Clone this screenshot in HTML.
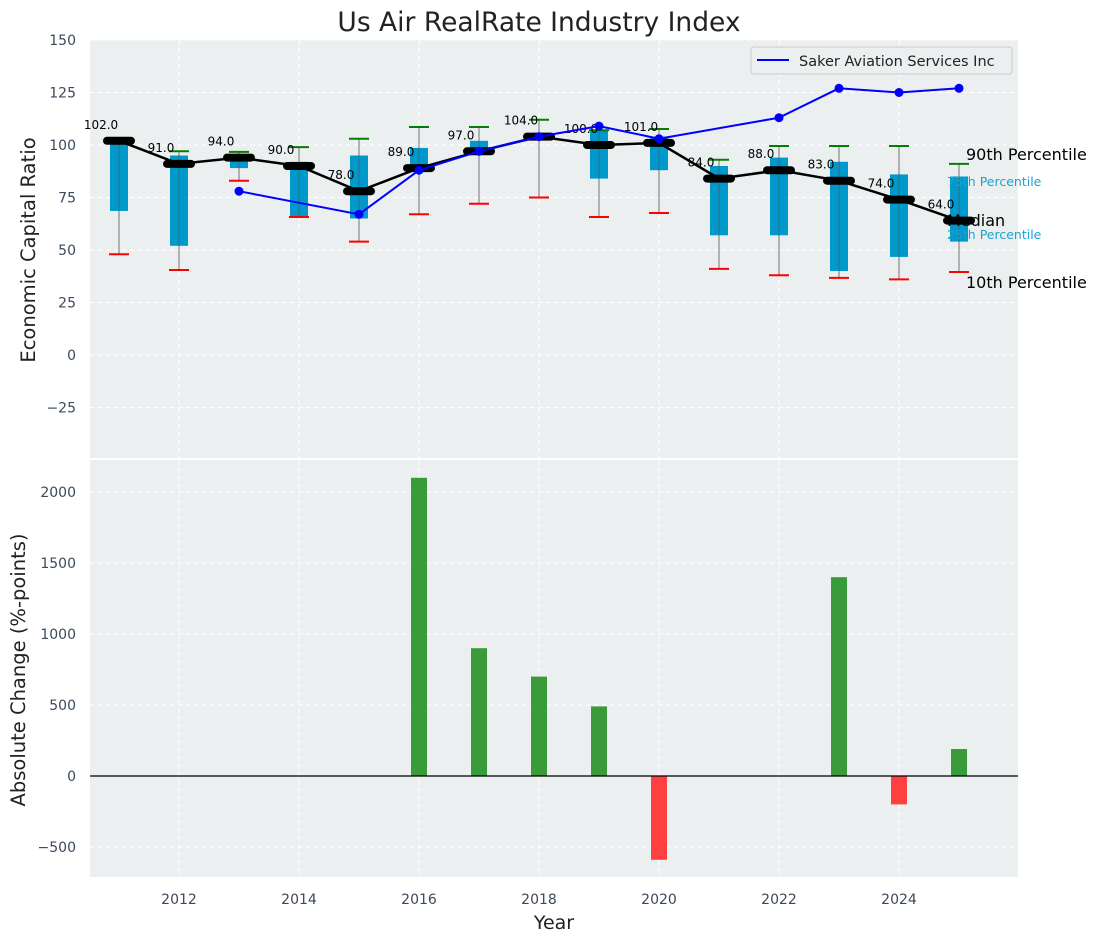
<!DOCTYPE html>
<html><head><meta charset="utf-8"><style>
body{margin:0;background:#fff;font-family:"Liberation Sans","DejaVu Sans",sans-serif}
svg text{font-family:"DejaVu Sans","Liberation Sans",sans-serif}
</style></head><body>
<svg id="c" width="1101" height="942" xmlns="http://www.w3.org/2000/svg">
<text x="539" y="31" text-anchor="middle" font-size="26.5" fill="#222">Us Air RealRate Industry Index</text>
<rect x="90" y="40" width="928" height="418" fill="#ebeff0"/>
<rect x="90" y="460" width="928" height="417" fill="#ebeff0"/>
<g id="topG"></g><g id="botG"></g>
<text x="35" y="250" transform="rotate(-90 35 250)" text-anchor="middle" font-size="19.5" fill="#222">Economic Capital Ratio</text>
<text x="25" y="670" transform="rotate(-90 25 670)" text-anchor="middle" font-size="19.5" fill="#222">Absolute Change (%-points)</text>
<text x="554" y="929" text-anchor="middle" font-size="19" fill="#222">Year</text>
<g>
<rect x="751" y="47" width="261" height="27" rx="3" fill="#ebeff0" stroke="#ccc"/>
<line x1="757" y1="60" x2="789" y2="60" stroke="#0000ff" stroke-width="2"/>
<text x="799" y="66" font-size="14.5" fill="#222">Saker Aviation Services Inc</text>
</g>
<text x="966" y="160" font-size="16" fill="#000">90th Percentile</text>
<text x="947" y="186" font-size="12.5" fill="#1aa3d1">75th Percentile</text>
<text x="947" y="226" font-size="16" fill="#000">Median</text>
<text x="947" y="239" font-size="12.5" fill="#1aa3d1">25th Percentile</text>
<text x="966" y="288" font-size="16" fill="#000">10th Percentile</text>
</svg>
<script>
const years=[2011,2012,2013,2014,2015,2016,2017,2018,2019,2020,2021,2022,2023,2024,2025];
const p10=[48,40.5,83,65.7,54,67,72,75,65.7,67.6,41,38,36.7,36,39.5];
const p25=[68.6,52,89,66,65,89,97,104,84,88,57,57,40,46.7,54];
const med=[102,91,94,90,78,89,97,104,100,101,84,88,83,74,64];
const p75=[102,95,94,92,95,98.6,102,104,107,104,90,94,92,86,85];
const p90=[102,97,96.7,99,103,108.6,108.6,112,107,107.6,93,99.5,99.5,99.5,91];
const coYears=[2013,2015,2016,2017,2018,2019,2020,2022,2023,2024,2025];
const coVals=[78,67,88,97,104,109,103,113,127,125,127];
const chgYears=[2016,2017,2018,2019,2020,2023,2024,2025];
const chgVals=[2100,900,700,490,-590,1400,-200,190];
const yTicksTop=[150,125,100,75,50,25,0,-25];
const yTicksBot=[2000,1500,1000,500,0,-500];
const xTicks=[2012,2014,2016,2018,2020,2022,2024];

const NS='http://www.w3.org/2000/svg';
const X=v=>119+(v-2011)*60;
const YT=v=>355-v*2.1;
const YB=v=>776-v*0.142;
function mk(p,tag,a){const e=document.createElementNS(NS,tag);for(const k in a)e.setAttribute(k,a[k]);p.appendChild(e);return e;}
const gTop=document.getElementById('topG'),gBot=document.getElementById('botG');
xTicks.forEach(t=>{
 [[40,458],[460,877]].forEach(r=>{
  const g=mk(gTop,'line',{x1:X(t),x2:X(t),y1:r[0],y2:r[1],stroke:'#fff','stroke-dasharray':'5,3','stroke-width':1});
  
  
 });
 const l=mk(gTop,'text',{x:X(t),y:904,'text-anchor':'middle','font-size':14,fill:'#3b4a5c'});l.textContent=t;
 
 
});
yTicksTop.forEach(t=>{
 const g=mk(gTop,'line',{x1:90,x2:1018,y1:YT(t),y2:YT(t),stroke:'#fff','stroke-dasharray':'5,3'});
 
 
 const l=mk(gTop,'text',{x:76,y:YT(t)+5,'text-anchor':'end','font-size':14,fill:'#3b4a5c'});l.textContent=t<0?'\u2212'+(-t):t;
 
 
});
yTicksBot.forEach(t=>{
 const g=mk(gBot,'line',{x1:90,x2:1018,y1:YB(t),y2:YB(t),stroke:'#fff','stroke-dasharray':'5,3'});
 
 
 const l=mk(gBot,'text',{x:76,y:YB(t)+5,'text-anchor':'end','font-size':14,fill:'#3b4a5c'});l.textContent=t<0?'\u2212'+(-t):t;
 
 
});
years.forEach((y,i)=>{
 const x=X(y);
 const w=mk(gTop,'line',{x1:x,x2:x,y1:YT(p90[i]),y2:YT(p10[i]),stroke:'#888','stroke-width':1.2});
 
 
 const b=mk(gTop,'rect',{x:x-9,y:YT(p75[i]),width:18,height:Math.max(0,YT(p25[i])-YT(p75[i])),fill:'#0099cc'});
 
 
 mk(gTop,'line',{x1:x,x2:x,y1:YT(p75[i]),y2:YT(p25[i]),stroke:'#555','stroke-width':1,opacity:0.6});
 const c1=mk(gTop,'line',{x1:x-10,x2:x+10,y1:YT(p10[i]),y2:YT(p10[i]),stroke:'#ff0000','stroke-width':2});
 
 
 const c2=mk(gTop,'line',{x1:x-10,x2:x+10,y1:YT(p90[i]),y2:YT(p90[i]),stroke:'#008000','stroke-width':2});
 
 
});
const mp=mk(gTop,'polyline',{points:years.map((y,i)=>X(y)+','+YT(med[i])).join(' '),fill:'none',stroke:'#000','stroke-width':2.5});


years.forEach((y,i)=>{
 const m=mk(gTop,'line',{x1:X(y)-12,x2:X(y)+12,y1:YT(med[i]),y2:YT(med[i]),stroke:'#000','stroke-width':8,'stroke-linecap':'round'});
 
 
 const t=mk(gTop,'text',{x:X(y)-18,y:YT(med[i])-12,'text-anchor':'middle','font-size':12,fill:'#000'});t.textContent=med[i].toFixed(1);
 
 
});
const cl=mk(gTop,'polyline',{points:coYears.map((y,i)=>X(y)+','+YT(coVals[i])).join(' '),fill:'none',stroke:'#0000ff','stroke-width':2});


coYears.forEach((y,i)=>{
 const d=mk(gTop,'circle',{cx:X(y),cy:YT(coVals[i]),r:4.5,fill:'#0000ff'});
 
 
});
chgYears.forEach((y,i)=>{
 const v=chgVals[i];
 const r=mk(gBot,'rect',{x:X(y)-8,y:Math.min(YB(v),YB(0)),width:16,height:Math.abs(YB(v)-YB(0)),fill:v>=0?'#3a9b3a':'#ff4040'});
 
 
});
const z=mk(gBot,'line',{x1:90,x2:1018,y1:YB(0),y2:YB(0),stroke:'#000','stroke-width':1.2});


</script>
</body></html>
